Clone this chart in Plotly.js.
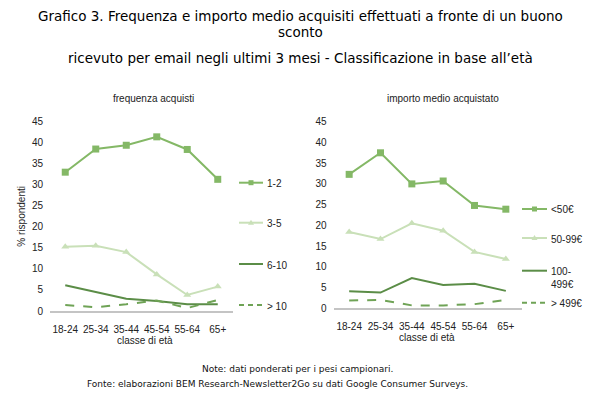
<!DOCTYPE html>
<html>
<head>
<meta charset="utf-8">
<script src="https://cdn.plot.ly/plotly-3.0.1.min.js"></script>
<style>html,body{margin:0;padding:0;background:#fff;}#chart{width:600px;height:395px;}</style>
</head>
<body>
<div id="chart"></div>
<script>
const categories = ["18-24", "25-34", "35-44", "45-54", "55-64", "65+"];

// Left panel: frequenza acquisti
const freqNames = ["1-2", "3-5", "6-10", "> 10"];
const freq_1_2 = [33.0, 38.5, 39.4, 41.4, 38.4, 31.3];
const freq_3_5 = [15.3, 15.5, 14.0, 8.7, 3.8, 5.8];
const freq_6_10 = [6.1, 4.5, 2.9, 2.4, 1.6, 1.6];
const freq_gt10 = [1.4, 0.9, 1.6, 2.5, 0.7, 2.6];

// Right panel: importo medio acquistato
const impNames = ["<50€", "50-99€", "100-<br>499€", "> 499€"];
const imp_lt50 = [32.3, 37.5, 30.0, 30.7, 24.8, 23.9];
const imp_50_99 = [18.4, 16.7, 20.5, 18.7, 13.6, 11.9];
const imp_100_499 = [4.1, 3.8, 7.3, 5.6, 5.9, 4.2];
const imp_gt499 = [1.9, 2.0, 0.7, 0.7, 1.0, 2.0];

const yTicks = [0, 5, 10, 15, 20, 25, 30, 35, 40, 45];

const cMid = "#84b866", cLight = "#c9e0b8", cDark = "#5b8d47", cDash = "#6fa356";
const styles = [
  {color: cMid, dash: "solid", marker: "square"},
  {color: cLight, dash: "solid", marker: "triangle-up"},
  {color: cDark, dash: "solid", marker: null},
  {color: cDash, dash: "dash", marker: null}
];

function mk(y, name, xa, ya, st) {
  const t = {
    x: categories, y: y, name: name, xaxis: xa, yaxis: ya, type: "scatter",
    mode: st.marker ? "lines+markers" : "lines",
    line: {color: st.color, width: 2, dash: st.dash},
    cliponaxis: false, showlegend: false
  };
  if (st.marker) t.marker = {symbol: st.marker, size: 7, color: st.color};
  return t;
}

const freqSeries = [freq_1_2, freq_3_5, freq_6_10, freq_gt10];
const impSeries = [imp_lt50, imp_50_99, imp_100_499, imp_gt499];
const data = [];
freqSeries.forEach((s, i) => data.push(mk(s, freqNames[i], "x", "y", styles[i])));
impSeries.forEach((s, i) => data.push(mk(s, impNames[i].replace("<br>", ""), "x2", "y2", styles[i])));

const W = 600, H = 395;
const px = v => v / W, py = v => 1 - v / H;
const tickFont = {family: "Liberation Sans, Arial, sans-serif", size: 10, color: "#222"};

const xBase = {
  type: "category", range: [-0.5, 5.5], showgrid: false, zeroline: false,
  showline: true, linecolor: "#c4c4c4", linewidth: 2, ticks: "",
  tickfont: tickFont, ticklabelstandoff: 8, fixedrange: true
};
const yBase = {
  range: [0, 45], tickvals: yTicks, showgrid: false, zeroline: false,
  showline: false, ticks: "", tickfont: tickFont, ticklabelstandoff: 6, fixedrange: true
};

const annFont = {family: "DejaVu Sans, Verdana, sans-serif", size: 13.5, color: "#000"};
const smallFont = {family: "Liberation Sans, Arial, sans-serif", size: 10, color: "#222"};

const shapes = [];
const annotations = [];

// Hand-drawn legend keys (layout decoration, in pixel-derived paper coords)
function legendItem(st, label, x0, x1, yl, xt, ytext) {
  shapes.push({type: "line", xref: "paper", yref: "paper",
    x0: px(x0), x1: px(x1), y0: py(yl), y1: py(yl),
    line: {color: st.color, width: 2, dash: st.dash === "dash" ? "5px,4px" : "solid"}});
  const xm = (x0 + x1) / 2;
  if (st.marker === "square") {
    shapes.push({type: "rect", xref: "paper", yref: "paper",
      x0: px(xm - 2.5), x1: px(xm + 2.5), y0: py(yl + 2.5), y1: py(yl - 2.5),
      fillcolor: st.color, line: {width: 0}});
  } else if (st.marker === "triangle-up") {
    shapes.push({type: "path", xref: "paper", yref: "paper",
      path: `M ${px(xm - 3)} ${py(yl + 2)} L ${px(xm + 3)} ${py(yl + 2)} L ${px(xm)} ${py(yl - 3)} Z`,
      fillcolor: st.color, line: {width: 0}});
  }
  annotations.push({text: label, xref: "paper", yref: "paper", x: px(xt), y: py(ytext),
    xanchor: "left", yanchor: "top", align: "left", showarrow: false, font: smallFont});
}
const leftLegY = [182.7, 222.7, 264, 305];
freqNames.forEach((n, i) => legendItem(styles[i], n, 239, 263, leftLegY[i], 265, leftLegY[i] - 6.5));
const rightLegY = [209, 238, 270.7, 302.7];
impNames.forEach((n, i) => legendItem(styles[i], n, 522, 547, rightLegY[i], 549, rightLegY[i] - 6.5));

annotations.push(
  {text: "Grafico 3. Frequenza e importo medio acquisiti effettuati a fronte di un buono",
   xref: "paper", yref: "paper", x: 0.5, y: py(16), xanchor: "center", yanchor: "middle",
   showarrow: false, font: annFont},
  {text: "sconto",
   xref: "paper", yref: "paper", x: 0.5, y: py(32), xanchor: "center", yanchor: "middle",
   showarrow: false, font: annFont},
  {text: "ricevuto per email negli ultimi 3 mesi - Classificazione in base all’età",
   xref: "paper", yref: "paper", x: 0.5, y: py(58), xanchor: "center", yanchor: "middle",
   showarrow: false, font: annFont},
  {text: "frequenza acquisti", xref: "paper", yref: "paper", x: px(153), y: py(98),
   xanchor: "center", yanchor: "middle", showarrow: false, font: smallFont},
  {text: "importo medio acquistato", xref: "paper", yref: "paper", x: px(443), y: py(98),
   xanchor: "center", yanchor: "middle", showarrow: false, font: smallFont},
  {text: "classe di età", xref: "paper", yref: "paper", x: px(145), y: py(340),
   xanchor: "center", yanchor: "middle", showarrow: false, font: smallFont},
  {text: "classe di età", xref: "paper", yref: "paper", x: px(427), y: py(337),
   xanchor: "center", yanchor: "middle", showarrow: false, font: smallFont},
  {text: "Note: dati ponderati per i pesi campionari.", xref: "paper", yref: "paper",
   x: px(297), y: py(369), xanchor: "center", yanchor: "middle", showarrow: false,
   font: {family: "DejaVu Sans, Verdana, sans-serif", size: 9, color: "#111"}},
  {text: "Fonte: elaborazioni BEM Research-Newsletter2Go su dati Google Consumer Surveys.",
   xref: "paper", yref: "paper", x: px(277), y: py(384), xanchor: "center", yanchor: "middle",
   showarrow: false, font: {family: "DejaVu Sans, Verdana, sans-serif", size: 9, color: "#111"}}
);

const layout = {
  width: W, height: H,
  margin: {l: 0, r: 0, t: 0, b: 0},
  paper_bgcolor: "#fff", plot_bgcolor: "#fff",
  showlegend: false,
  xaxis: Object.assign({}, xBase, {domain: [px(50), px(233)], anchor: "y"}),
  yaxis: Object.assign({}, yBase, {domain: [py(311), py(121.7)], anchor: "x",
    title: {text: "% rispondenti", font: smallFont, standoff: 4}}),
  xaxis2: Object.assign({}, xBase, {domain: [px(333.5), px(521.5)], anchor: "y2"}),
  yaxis2: Object.assign({}, yBase, {domain: [py(308.3), py(121.7)], anchor: "x2"}),
  shapes: shapes,
  annotations: annotations
};

Plotly.newPlot("chart", data, layout, {displayModeBar: false, staticPlot: true});
</script>
</body>
</html>
